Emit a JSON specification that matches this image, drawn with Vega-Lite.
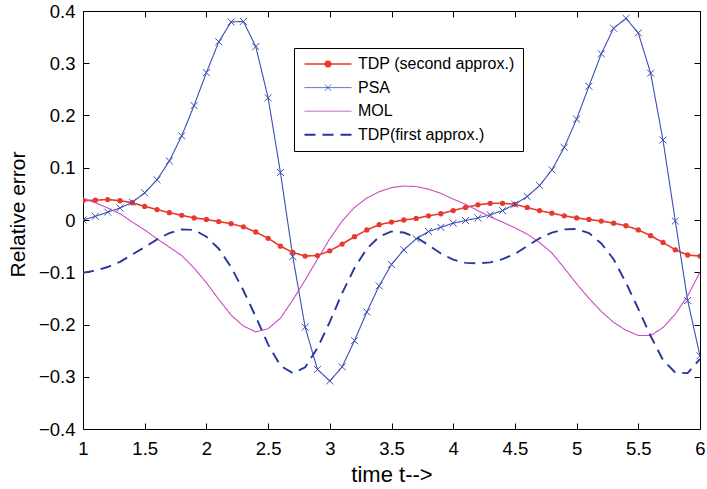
{
  "$schema": "https://vega.github.io/schema/vega-lite/v6.json",
  "autosize": {"type": "none"},
  "width": 617,
  "height": 418,
  "padding": {"left": 83, "top": 11, "right": 7, "bottom": 60},
  "background": "white",
  "config": {
    "font": "Liberation Sans",
    "view": {"stroke": "black", "strokeWidth": 1},
    "axis": {"grid": false, "domain": false, "tickColor": "black", "tickWidth": 1, "tickSize": -6, "labelColor": "black", "labelFont": "Liberation Sans", "labelFontSize": 18.5, "titleFont": "Liberation Sans", "titleFontWeight": "normal", "titleColor": "black"}
  },
  "data": {"values": [
    {"t":1.0,"tdp2":0.037,"psa":0.000,"mol":0.042,"tdp1":-0.101},
    {"t":1.1,"tdp2":0.038,"psa":0.007,"mol":0.033,"tdp1":-0.097},
    {"t":1.2,"tdp2":0.039,"psa":0.015,"mol":0.023,"tdp1":-0.090},
    {"t":1.3,"tdp2":0.037,"psa":0.023,"mol":0.012,"tdp1":-0.080},
    {"t":1.4,"tdp2":0.033,"psa":0.034,"mol":-0.004,"tdp1":-0.066},
    {"t":1.5,"tdp2":0.026,"psa":0.052,"mol":-0.019,"tdp1":-0.052},
    {"t":1.6,"tdp2":0.020,"psa":0.077,"mol":-0.036,"tdp1":-0.037},
    {"t":1.7,"tdp2":0.014,"psa":0.113,"mol":-0.052,"tdp1":-0.025},
    {"t":1.8,"tdp2":0.009,"psa":0.161,"mol":-0.068,"tdp1":-0.018},
    {"t":1.9,"tdp2":0.004,"psa":0.219,"mol":-0.092,"tdp1":-0.019},
    {"t":2.0,"tdp2":0.001,"psa":0.282,"mol":-0.120,"tdp1":-0.032},
    {"t":2.1,"tdp2":-0.003,"psa":0.341,"mol":-0.152,"tdp1":-0.055},
    {"t":2.2,"tdp2":-0.007,"psa":0.379,"mol":-0.182,"tdp1":-0.090},
    {"t":2.3,"tdp2":-0.013,"psa":0.380,"mol":-0.203,"tdp1":-0.135},
    {"t":2.4,"tdp2":-0.023,"psa":0.332,"mol":-0.214,"tdp1":-0.185},
    {"t":2.5,"tdp2":-0.035,"psa":0.234,"mol":-0.208,"tdp1":-0.238},
    {"t":2.6,"tdp2":-0.050,"psa":0.091,"mol":-0.188,"tdp1":-0.279},
    {"t":2.7,"tdp2":-0.062,"psa":-0.070,"mol":-0.153,"tdp1":-0.293},
    {"t":2.8,"tdp2":-0.069,"psa":-0.205,"mol":-0.115,"tdp1":-0.282},
    {"t":2.9,"tdp2":-0.068,"psa":-0.286,"mol":-0.075,"tdp1":-0.245},
    {"t":3.0,"tdp2":-0.059,"psa":-0.308,"mol":-0.036,"tdp1":-0.195},
    {"t":3.1,"tdp2":-0.046,"psa":-0.281,"mol":-0.002,"tdp1":-0.140},
    {"t":3.2,"tdp2":-0.032,"psa":-0.231,"mol":0.024,"tdp1":-0.092},
    {"t":3.3,"tdp2":-0.019,"psa":-0.176,"mol":0.042,"tdp1":-0.055},
    {"t":3.4,"tdp2":-0.009,"psa":-0.126,"mol":0.054,"tdp1":-0.032},
    {"t":3.5,"tdp2":-0.004,"psa":-0.085,"mol":0.062,"tdp1":-0.022},
    {"t":3.6,"tdp2":0.000,"psa":-0.057,"mol":0.065,"tdp1":-0.024},
    {"t":3.7,"tdp2":0.003,"psa":-0.036,"mol":0.064,"tdp1":-0.033},
    {"t":3.8,"tdp2":0.008,"psa":-0.022,"mol":0.059,"tdp1":-0.048},
    {"t":3.9,"tdp2":0.012,"psa":-0.014,"mol":0.051,"tdp1":-0.064},
    {"t":4.0,"tdp2":0.018,"psa":-0.006,"mol":0.040,"tdp1":-0.076},
    {"t":4.1,"tdp2":0.024,"psa":-0.001,"mol":0.030,"tdp1":-0.082},
    {"t":4.2,"tdp2":0.029,"psa":0.004,"mol":0.018,"tdp1":-0.083},
    {"t":4.3,"tdp2":0.032,"psa":0.010,"mol":0.006,"tdp1":-0.081},
    {"t":4.4,"tdp2":0.032,"psa":0.018,"mol":-0.004,"tdp1":-0.075},
    {"t":4.5,"tdp2":0.030,"psa":0.030,"mol":-0.015,"tdp1":-0.065},
    {"t":4.6,"tdp2":0.024,"psa":0.045,"mol":-0.027,"tdp1":-0.050},
    {"t":4.7,"tdp2":0.018,"psa":0.066,"mol":-0.043,"tdp1":-0.035},
    {"t":4.8,"tdp2":0.013,"psa":0.096,"mol":-0.063,"tdp1":-0.024},
    {"t":4.9,"tdp2":0.008,"psa":0.139,"mol":-0.092,"tdp1":-0.018},
    {"t":5.0,"tdp2":0.004,"psa":0.193,"mol":-0.122,"tdp1":-0.017},
    {"t":5.1,"tdp2":0.001,"psa":0.256,"mol":-0.150,"tdp1":-0.025},
    {"t":5.2,"tdp2":-0.002,"psa":0.318,"mol":-0.175,"tdp1":-0.045},
    {"t":5.3,"tdp2":-0.006,"psa":0.367,"mol":-0.196,"tdp1":-0.075},
    {"t":5.4,"tdp2":-0.011,"psa":0.386,"mol":-0.211,"tdp1":-0.120},
    {"t":5.5,"tdp2":-0.019,"psa":0.358,"mol":-0.221,"tdp1":-0.170},
    {"t":5.6,"tdp2":-0.030,"psa":0.281,"mol":-0.221,"tdp1":-0.222},
    {"t":5.7,"tdp2":-0.043,"psa":0.153,"mol":-0.206,"tdp1":-0.268},
    {"t":5.8,"tdp2":-0.057,"psa":-0.002,"mol":-0.180,"tdp1":-0.292},
    {"t":5.9,"tdp2":-0.067,"psa":-0.154,"mol":-0.145,"tdp1":-0.293},
    {"t":6.0,"tdp2":-0.069,"psa":-0.260,"mol":-0.100,"tdp1":-0.266}
  ]},
  "transform": [{"fold": ["tdp2", "psa", "mol", "tdp1"], "as": ["series", "value"]}],
  "resolve": {"scale": {"x": "shared", "y": "shared"}, "axis": {"x": "independent", "y": "independent"}},
  "layer": [
    {
      "mark": {"type": "line", "clip": true},
      "encoding": {
        "x": {"field": "t", "type": "quantitative", "scale": {"domain": [1, 6], "nice": false, "zero": false},
              "axis": {"orient": "bottom", "values": [1,1.5,2,2.5,3,3.5,4,4.5,5,5.5,6], "format": ".1~f", "labelPadding": 16, "title": "time t-->", "titleFontSize": 22, "titlePadding": 7, "labelFlush": false}},
        "y": {"field": "value", "type": "quantitative", "scale": {"domain": [-0.4, 0.4], "nice": false, "zero": false},
              "axis": {"orient": "left", "values": [-0.4,-0.3,-0.2,-0.1,0,0.1,0.2,0.3,0.4], "format": ".1~f", "labelPadding": 14, "title": "Relative error", "titleFontSize": 21, "titlePadding": 10, "titleY": 203, "labelFlush": false}},
        "order": {"field": "t", "type": "quantitative"},
        "color": {"field": "series", "type": "nominal",
                  "scale": {"domain": ["tdp2", "psa", "mol", "tdp1"], "range": ["#e8392e", "#3a4eb3", "#c84ec2", "#27369b"]},
                  "legend": {
                    "title": null, "orient": "none", "legendX": 211, "legendY": 37,
                    "labelExpr": "datum.value === 'tdp2' ? 'TDP (second approx.)' : datum.value === 'psa' ? 'PSA' : datum.value === 'mol' ? 'MOL' : 'TDP(first approx.)'",
                    "labelFont": "Liberation Sans", "labelFontSize": 16, "labelColor": "black",
                    "strokeColor": "black", "fillColor": "white", "padding": 8, "cornerRadius": 0,
                    "symbolSize": 100, "symbolOffset": 18, "labelOffset": 22, "rowPadding": 7.6,
                    "encode": {"symbols": {"update": {
                      "shape": {"signal": "datum.value === 'tdp2' ? 'M-4.7,0H4.7M0.55,0A0.55,0.55 0 1,1 -0.55,0A0.55,0.55 0 1,1 0.55,0Z' : datum.value === 'psa' ? 'M-4.7,0H4.7M-0.6,-0.6L0.6,0.6M-0.6,0.6L0.6,-0.6' : 'M-4.7,0H4.7'"},
                      "fill": {"signal": "datum.value === 'tdp2' ? '#e8392e' : 'transparent'"},
                      "strokeWidth": {"signal": "datum.value === 'tdp2' ? 1.6 : datum.value === 'tdp1' ? 1.9 : 1"}
                    }}}
                  }},
        "strokeDash": {"field": "series", "type": "nominal",
                       "scale": {"domain": ["tdp2", "psa", "mol", "tdp1"], "range": [[1,0], [1,0], [1,0], [11,7]]}},
        "strokeWidth": {"condition": [{"test": "datum.series === 'tdp1'", "value": 1.9}, {"test": "datum.series === 'tdp2'", "value": 1.6}], "value": 1.1}
      }
    },
    {
      "transform": [{"filter": "datum.series === 'tdp2'"}],
      "mark": {"type": "point", "filled": true, "shape": "circle", "size": 28, "color": "#e8392e", "opacity": 1, "clip": true},
      "encoding": {
        "x": {"field": "t", "type": "quantitative", "axis": null},
        "y": {"field": "value", "type": "quantitative", "axis": null}
      }
    },
    {
      "transform": [{"filter": "datum.series === 'psa'"}],
      "mark": {"type": "point", "filled": false, "shape": "M-1,-1L1,1M-1,1L1,-1", "size": 48, "color": "#3a4eb3", "strokeWidth": 1, "opacity": 1, "clip": true},
      "encoding": {
        "x": {"field": "t", "type": "quantitative",
              "axis": {"orient": "top", "values": [1,1.5,2,2.5,3,3.5,4,4.5,5,5.5,6], "labels": false, "title": null}},
        "y": {"field": "value", "type": "quantitative",
              "axis": {"orient": "right", "values": [-0.4,-0.3,-0.2,-0.1,0,0.1,0.2,0.3,0.4], "labels": false, "title": null}}
      }
    }
  ]
}
